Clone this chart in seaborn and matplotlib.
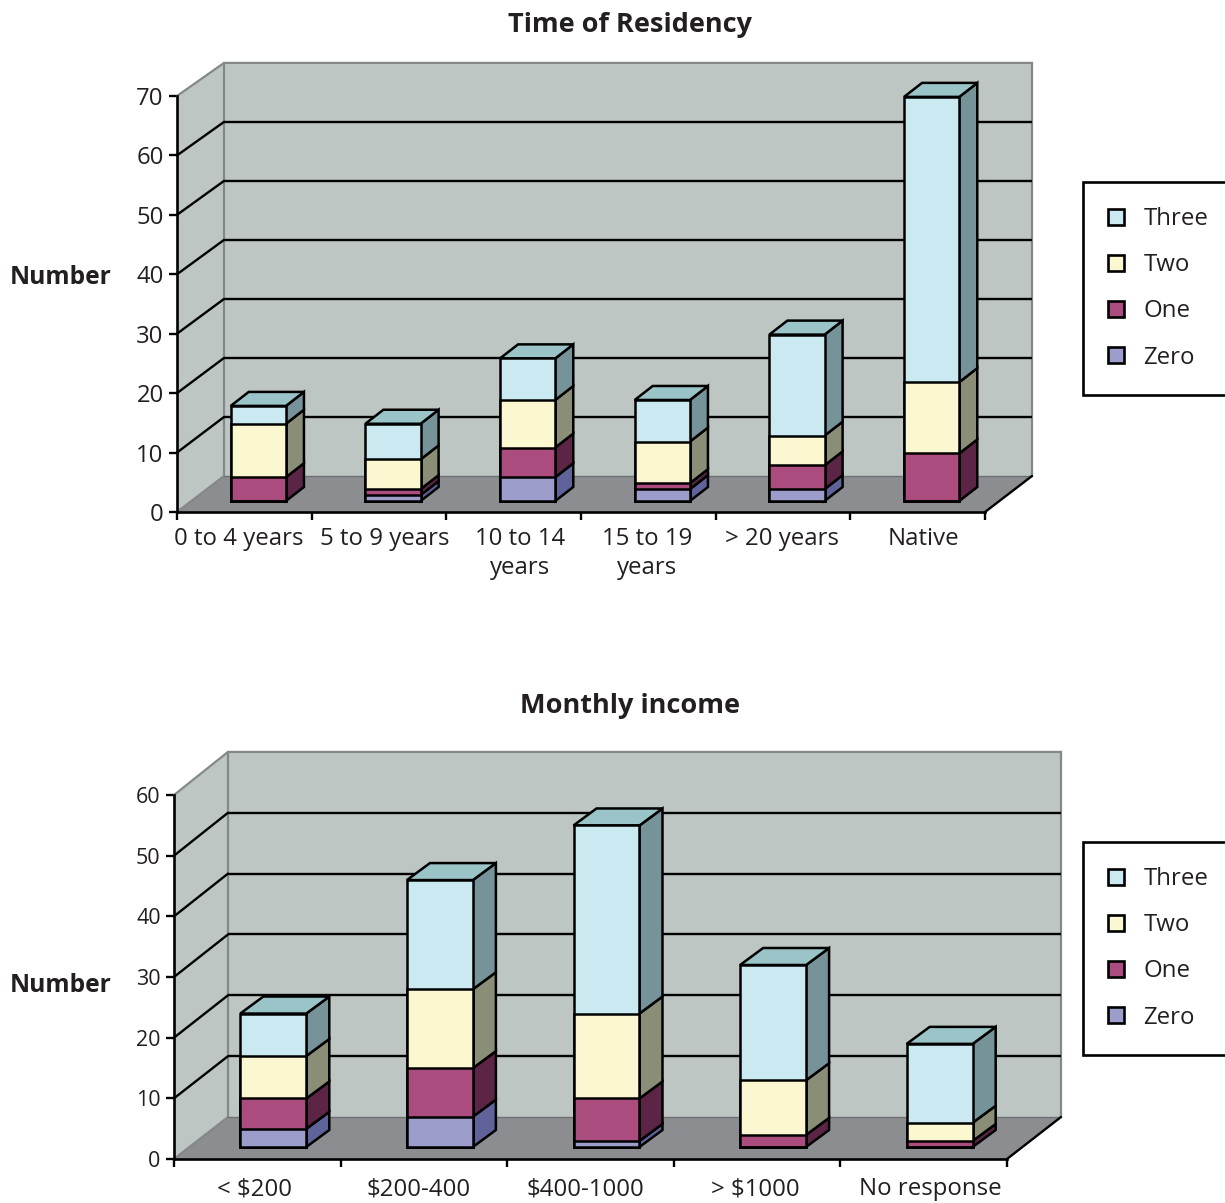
import matplotlib
matplotlib.use("Agg")
import matplotlib.pyplot as plt
from matplotlib.patches import Polygon
from matplotlib.transforms import ScaledTranslation
import seaborn as sns

# ---------- data ----------
residency_categories = ["0 to 4 years", "5 to 9 years", "10 to 14\nyears", "15 to 19\nyears", "> 20 years", "Native"]
residency_zero = [0, 1, 4, 2, 2, 0]
residency_one = [4, 1, 5, 1, 4, 8]
residency_two = [9, 5, 8, 7, 5, 12]
residency_three = [3, 6, 7, 7, 17, 48]

income_categories = ["< $200", "$200-400", "$400-1000", "> $1000", "No response"]
income_zero = [3, 5, 1, 0, 0]
income_one = [5, 8, 7, 2, 1]
income_two = [7, 13, 14, 9, 3]
income_three = [7, 18, 31, 19, 13]

series_names = ["Zero", "One", "Two", "Three"]
front_colors = ["#9D9DCB", "#AA4D7E", "#FBF7D0", "#CBE9F1"]
side_colors = ["#5F6399", "#5C2545", "#8B8E77", "#76939A"]
top_color = "#9AC4C8"
wall_color = "#BDC6C3"
floor_color = "#8B8D91"
edge_grey = "#85888B"
ink = "#231F20"

W, H = 1225, 1203
sns.set_theme(style="white")
plt.rcParams["font.family"] = ["Open Sans", "DejaVu Sans"]
fig = plt.figure(figsize=(W / 100, H / 100), dpi=100, facecolor="white")

EDGE = 1.8


def fx(px):
    return px / W


def fy(py):
    return 1 - py / H


def panel(title, title_y, number_y, cats, series, ymax, box, wall_px, back_scale, bar_px, width,
          ytick_size, label_shift, label_pad, legend_top):
    left, top_y, right, base_y = box
    ax = fig.add_axes([fx(left), fy(base_y), fx(right - left), (base_y - top_y) / H])
    ax.set_facecolor("none")
    n = len(cats)
    ux = (right - left) / n        # pixels per category
    uy = (base_y - top_y) / ymax   # pixels per value

    # pixel depth vectors converted to data units
    wx, wy = wall_px[0] / ux, wall_px[1] / uy
    gap_x, gap_y = bar_px[0] / ux, bar_px[1] / uy
    dep_x, dep_y = bar_px[2] / ux, bar_px[3] / uy
    x0, x1 = -0.5, n - 0.5

    def back(v):
        return wy + v * back_scale

    # stacked bars: cumulative totals drawn from tallest to shortest
    totals = []
    running = [0] * n
    for vals in series:
        running = [a + b for a, b in zip(running, vals)]
        totals.append(running)

    for i in range(len(series) - 1, -1, -1):
        start = len(ax.patches)
        sns.barplot(x=cats, y=totals[i], color=front_colors[i], saturation=1, width=width,
                    edgecolor="black", linewidth=EDGE, label=series_names[i], ax=ax, zorder=6)
        for p in ax.patches[start:]:
            p.set_x(p.get_x() + gap_x)
            p.set_y(p.get_y() + gap_y)
            p.set_joinstyle("miter")
    ax.set_xlim(x0, x1)
    ax.set_ylim(0, ymax)

    def poly(pts, **kw):
        kw.setdefault("clip_on", False)
        ax.add_patch(Polygon(pts, closed=True, **kw))

    # walls and floor
    poly([(x0, 0), (x0 + wx, back(0)), (x0 + wx, back(ymax)), (x0, ymax)], fc=wall_color, ec="none", zorder=0)
    poly([(x0 + wx, back(0)), (x1 + wx, back(0)), (x1 + wx, back(ymax)), (x0 + wx, back(ymax))],
         fc=wall_color, ec="none", zorder=0)
    poly([(x0, 0), (x1, 0), (x1 + wx, back(0)), (x0 + wx, back(0))], fc=floor_color, ec="none", zorder=1)

    # grey wall edges
    ax.plot([x0, x0 + wx, x1 + wx, x1 + wx], [ymax, back(ymax), back(ymax), back(0)], color=edge_grey,
            lw=1.6, clip_on=False, zorder=2, solid_joinstyle="miter")
    ax.plot([x0, x0 + wx, x0 + wx], [0, back(0), back(ymax)], color=edge_grey, lw=1.6, clip_on=False,
            zorder=2, solid_joinstyle="miter")
    ax.plot([x0 + wx, x1 + wx], [back(0), back(0)], color="#6E7074", lw=1.0, clip_on=False, zorder=2)

    # gridlines on the back and left walls
    for v in range(10, ymax, 10):
        ax.plot([x0 + wx, x1 + wx], [back(v), back(v)], color="black", lw=1.7, clip_on=False, zorder=3,
                solid_capstyle="butt")
        ax.plot([x0, x0 + wx], [v, back(v)], color="black", lw=1.7, clip_on=False, zorder=3)
    ax.plot([x1, x1 + wx], [0, back(0)], color="black", lw=1.7, clip_on=False, zorder=3)

    # side and top faces of every bar
    for j in range(n):
        xr = j + width / 2 + gap_x
        xl = j - width / 2 + gap_x
        lo = 0
        for i in range(len(series)):
            hi = totals[i][j]
            if hi > lo:
                poly([(xr, lo + gap_y), (xr, hi + gap_y), (xr + dep_x, hi + gap_y + dep_y),
                      (xr + dep_x, lo + gap_y + dep_y)], fc=side_colors[i], ec="black", lw=EDGE,
                     zorder=4, joinstyle="miter")
            lo = hi
        poly([(xl, lo + gap_y), (xr, lo + gap_y), (xr + dep_x, lo + gap_y + dep_y),
              (xl + dep_x, lo + gap_y + dep_y)], fc=top_color, ec="black", lw=EDGE, zorder=4,
             joinstyle="miter")

    # axes furniture
    sns.despine(ax=ax, top=True, right=True)
    for s in ("left", "bottom"):
        ax.spines[s].set_color("black")
        ax.spines[s].set_linewidth(1.9)
        ax.spines[s].set_zorder(7)
    ax.set_yticks(range(0, ymax + 1, 10))
    ax.set_xticks([x0 + k for k in range(n + 1)])
    ax.set_xticklabels([])
    ax.set_xticks(range(n), cats, minor=True)
    ax.tick_params(axis="y", length=6, width=1.7, color="black", left=True, pad=3.6,
                   labelsize=ytick_size, labelcolor=ink)
    ax.tick_params(axis="x", which="major", length=6, width=1.7, color="black", bottom=True)
    ax.tick_params(axis="x", which="minor", length=0, pad=label_pad, labelsize=17.3, labelcolor=ink)
    for lab, shift in zip(ax.get_xticklabels(minor=True), label_shift):
        lab.set_linespacing(1.3)
        lab.set_transform(lab.get_transform() + ScaledTranslation(shift / 100, 0, fig.dpi_scale_trans))
    ax.set_xlabel("")
    ax.set_ylabel("")

    fig.text(fx(630), fy(title_y), title, ha="center", va="center", fontsize=19.5, fontweight="bold", color=ink)
    fig.text(fx(61), fy(number_y), "Number", ha="center", va="center", fontsize=17.7, fontweight="bold", color=ink)

    leg = ax.legend(loc="upper left", bbox_to_anchor=(fx(1083), fy(legend_top)),
                    bbox_transform=fig.transFigure, frameon=True, fancybox=False, fontsize=17.3,
                    borderpad=1.05, borderaxespad=0, labelspacing=0.92,
                    handlelength=0.67, handleheight=0.67, handletextpad=0.8, labelcolor=ink)
    leg.get_frame().set_edgecolor("black")
    leg.get_frame().set_linewidth(1.9)
    leg.get_frame().set_alpha(1)
    for h in leg.legend_handles:
        h.set_linewidth(1.9)
        h.set_edgecolor("black")
    return ax


panel("Time of Residency", 25, 277, residency_categories,
      [residency_zero, residency_one, residency_two, residency_three], 70,
      (177, 96, 985, 512), (47, 36), 0.993, (14, 11, 18, 14), 0.41, 17.2,
      (-6, 6, 6, -1, -1, 6), 10.5, 182)

panel("Monthly income", 706, 985, income_categories,
      [income_zero, income_one, income_two, income_three], 60,
      (174, 795, 1007, 1159), (54, 42), 1.003, (16, 12, 23, 17), 0.396, 15.5,
      (-3, -5, -5, -2, 7), 13, 842)

fig.savefig("out.png", dpi=100, facecolor="white")
